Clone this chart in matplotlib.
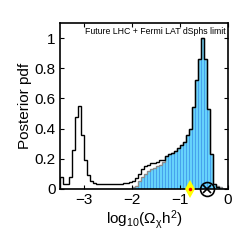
import numpy as np
import matplotlib
matplotlib.use('Agg')
import matplotlib.pyplot as plt

plt.rcParams['font.family'] = ['Liberation Sans', 'DejaVu Sans']
plt.rcParams['mathtext.fontset'] = 'custom'
plt.rcParams['mathtext.rm'] = 'Liberation Sans'
plt.rcParams['mathtext.it'] = 'Liberation Sans'

# posterior pdf, all samples (black outline), 56 bins over [-3.5, 0]
pdf_all = [0.08, 0.03, 0.03, 0.08, 0.26, 0.48, 0.55, 0.36, 0.19, 0.09,
           0.05, 0.04, 0.035, 0.033, 0.03, 0.03, 0.03, 0.03, 0.03, 0.033,
           0.035, 0.04, 0.04, 0.045, 0.05, 0.07, 0.10, 0.13, 0.15, 0.16,
           0.17, 0.17, 0.18, 0.19, 0.19, 0.22, 0.23, 0.24, 0.25, 0.27,
           0.29, 0.31, 0.36, 0.40, 0.54, 0.72, 0.86, 1.00, 0.86, 0.53,
           0.23, 0.03, 0.01, 0.0, 0.0, 0.0]
# posterior pdf with limit applied (blue bars)
pdf_lim = [0.0, 0.0, 0.0, 0.0, 0.0, 0.0, 0.0, 0.0, 0.0, 0.0,
           0.0, 0.0, 0.0, 0.0, 0.0, 0.0, 0.0, 0.0, 0.0, 0.0,
           0.0, 0.0, 0.0, 0.0, 0.01, 0.02, 0.05, 0.08, 0.10, 0.12,
           0.13, 0.14, 0.15, 0.16, 0.18, 0.22, 0.23, 0.24, 0.25, 0.27,
           0.29, 0.31, 0.36, 0.40, 0.54, 0.72, 0.86, 1.00, 0.86, 0.53,
           0.23, 0.03, 0.02, 0.01, 0.0, 0.0]
edges = np.linspace(-3.5, 0, len(pdf_all) + 1)
best_fit = -0.79
true_val = -0.44
label = 'Future LHC + Fermi LAT dSphs limit'

fig = plt.figure(figsize=[2.49, 2.49], dpi=100, facecolor='White')
ax = fig.add_axes([0.241, 0.241, 0.675, 0.667])

w = edges[1] - edges[0]
centers = edges[:-1] + w / 2
ax.bar(centers, pdf_lim, width=w, color='#66d2fb', edgecolor='#3b95ea', linewidth=0.5)
ax.stairs(pdf_lim, edges, color='#8c8c8c', linewidth=1.0)
ax.stairs(pdf_all, edges, color='k', linewidth=1.0)

ax.plot(best_fit, 0, 'd', color='yellow', markersize=9, markeredgewidth=0, clip_on=False, zorder=5)
ax.plot(best_fit, 0, '.', color='red', markersize=3, clip_on=False, zorder=6)
ax.plot(true_val, 0, 'o', mfc='none', mec='k', markersize=10, markeredgewidth=1.2, clip_on=False, zorder=5)
ax.plot(true_val, 0, 'x', color='k', markersize=6, markeredgewidth=1.2, clip_on=False, zorder=5)

ax.text(0.985, 0.975, label, transform=ax.transAxes, ha='right', va='top', fontsize=6.3)

ax.set_xlim([-3.5, 0]); ax.set_ylim([0, 1.1])
ax.set_xticks([-3, -2, -1, 0]); ax.set_xticklabels(['\u22123', '\u22122', '\u22121', '0'])
ax.set_yticks(np.arange(0, 1.01, 0.2)); ax.set_yticklabels(['0', '0.2', '0.4', '0.6', '0.8', '1'])
ax.tick_params(axis='both', which='major', direction='in', left=True, right=True, bottom=True, top=True,
               length=3, width=0.8, labelsize=11, pad=3)
for s in ax.spines.values():
    s.set_linewidth(1.2)
ax.set_xlabel(r'log$_{10}$($\Omega_{\chi}$h$^2$)', fontsize=11, labelpad=1)
ax.set_ylabel('Posterior pdf', fontsize=11, labelpad=2)

plt.savefig('out.png', dpi=100)
